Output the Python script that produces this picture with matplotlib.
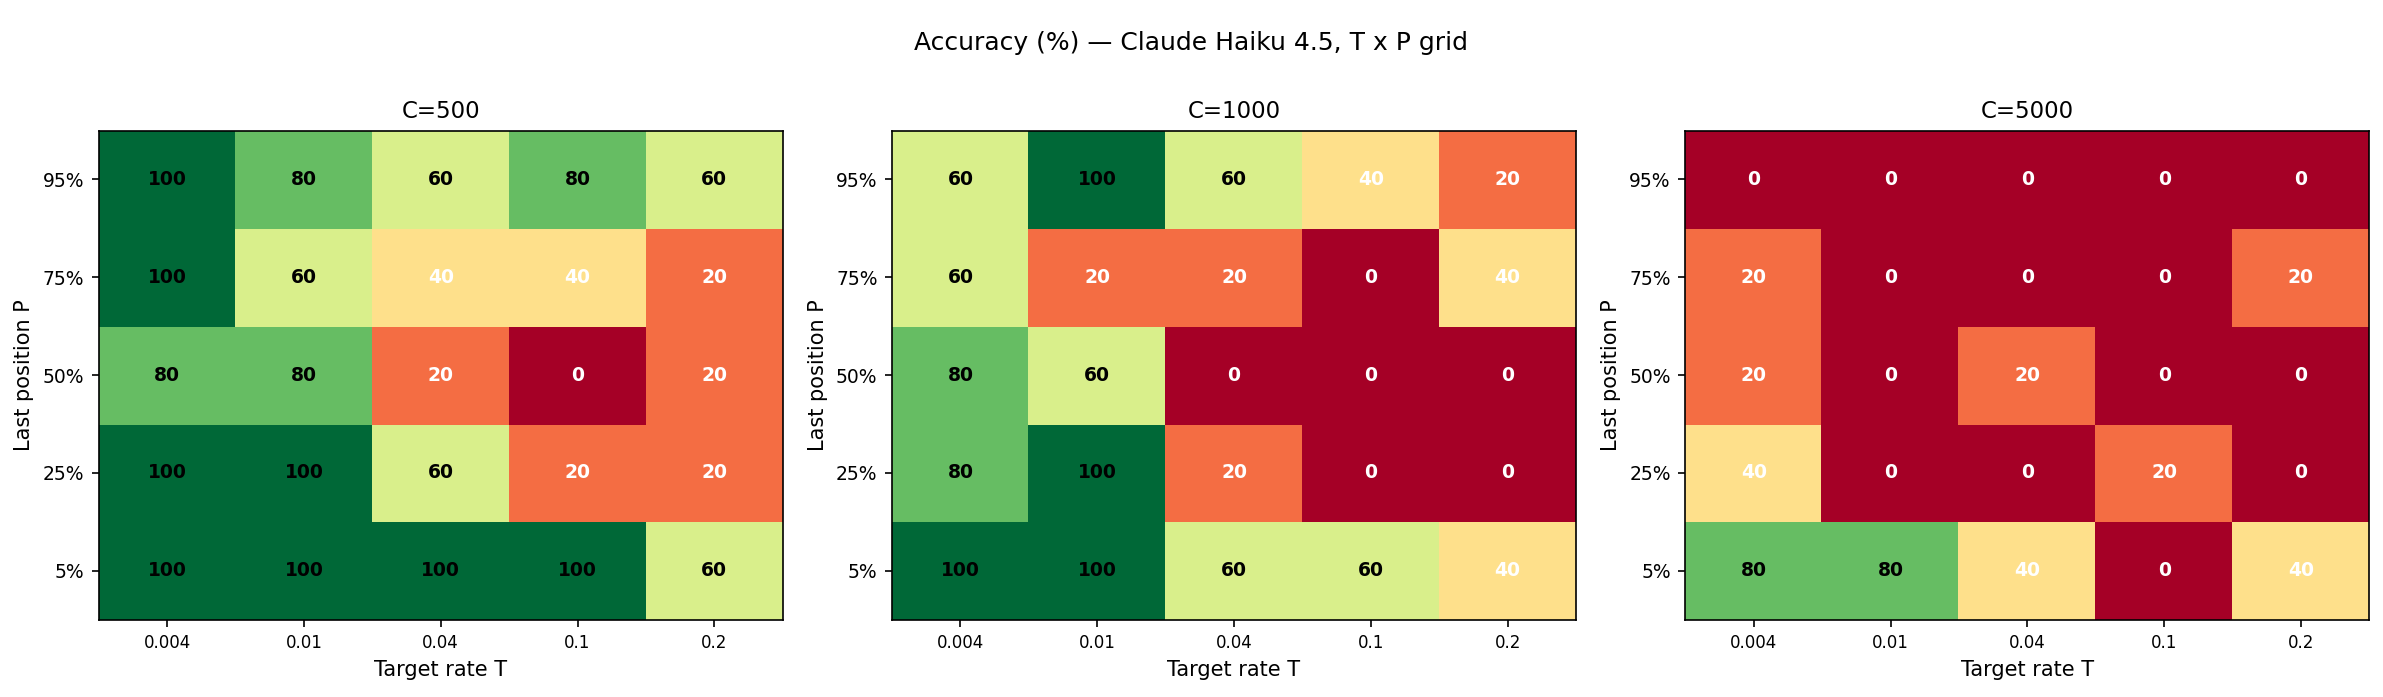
import numpy as np
import matplotlib
matplotlib.use("Agg")
import matplotlib.pyplot as plt

T_labels = ["0.004", "0.01", "0.04", "0.1", "0.2"]
P_labels = ["5%", "25%", "50%", "75%", "95%"]
C_titles = ["C=500", "C=1000", "C=5000"]
acc_c500 = [[100, 100, 100, 100, 60],
            [100, 100, 60, 20, 20],
            [80, 80, 20, 0, 20],
            [100, 60, 40, 40, 20],
            [100, 80, 60, 80, 60]]
acc_c1000 = [[100, 100, 60, 60, 40],
             [80, 100, 20, 0, 0],
             [80, 60, 0, 0, 0],
             [60, 20, 20, 0, 40],
             [60, 100, 60, 40, 20]]
acc_c5000 = [[80, 80, 40, 0, 40],
             [40, 0, 0, 20, 0],
             [20, 0, 20, 0, 0],
             [20, 0, 0, 0, 20],
             [0, 0, 0, 0, 0]]
grids = [acc_c500, acc_c1000, acc_c5000]

W, H = 1568, 459
fig = plt.figure(figsize=(2383/150, 697/150), dpi=150)
lefts = [65, 587, 1109]
for i, (g, title) in enumerate(zip(grids, C_titles)):
    ax = fig.add_axes([lefts[i]/W, 1-408/H, 450/W, 322/H])
    a = np.array(g)
    ax.imshow(a, cmap="RdYlGn", vmin=0, vmax=100, origin="lower", aspect="auto")
    for r in range(a.shape[0]):
        for c in range(a.shape[1]):
            v = a[r, c]
            ax.text(c, r, str(v), ha="center", va="center", fontsize=9,
                    fontweight="bold", color="white" if v < 50 else "black")
    ax.set_xticks(range(len(T_labels)))
    ax.set_xticklabels(T_labels, fontsize=8)
    ax.set_yticks(range(len(P_labels)))
    ax.set_yticklabels(P_labels, fontsize=9)
    ax.set_xlabel("Target rate T", fontsize=10)
    ax.set_ylabel("Last position P", fontsize=10)
    ax.set_title(title, fontsize=11)

fig.suptitle("Accuracy (%) — Claude Haiku 4.5, T x P grid", fontsize=12, y=0.955)
fig.savefig("out.png", dpi=150)
